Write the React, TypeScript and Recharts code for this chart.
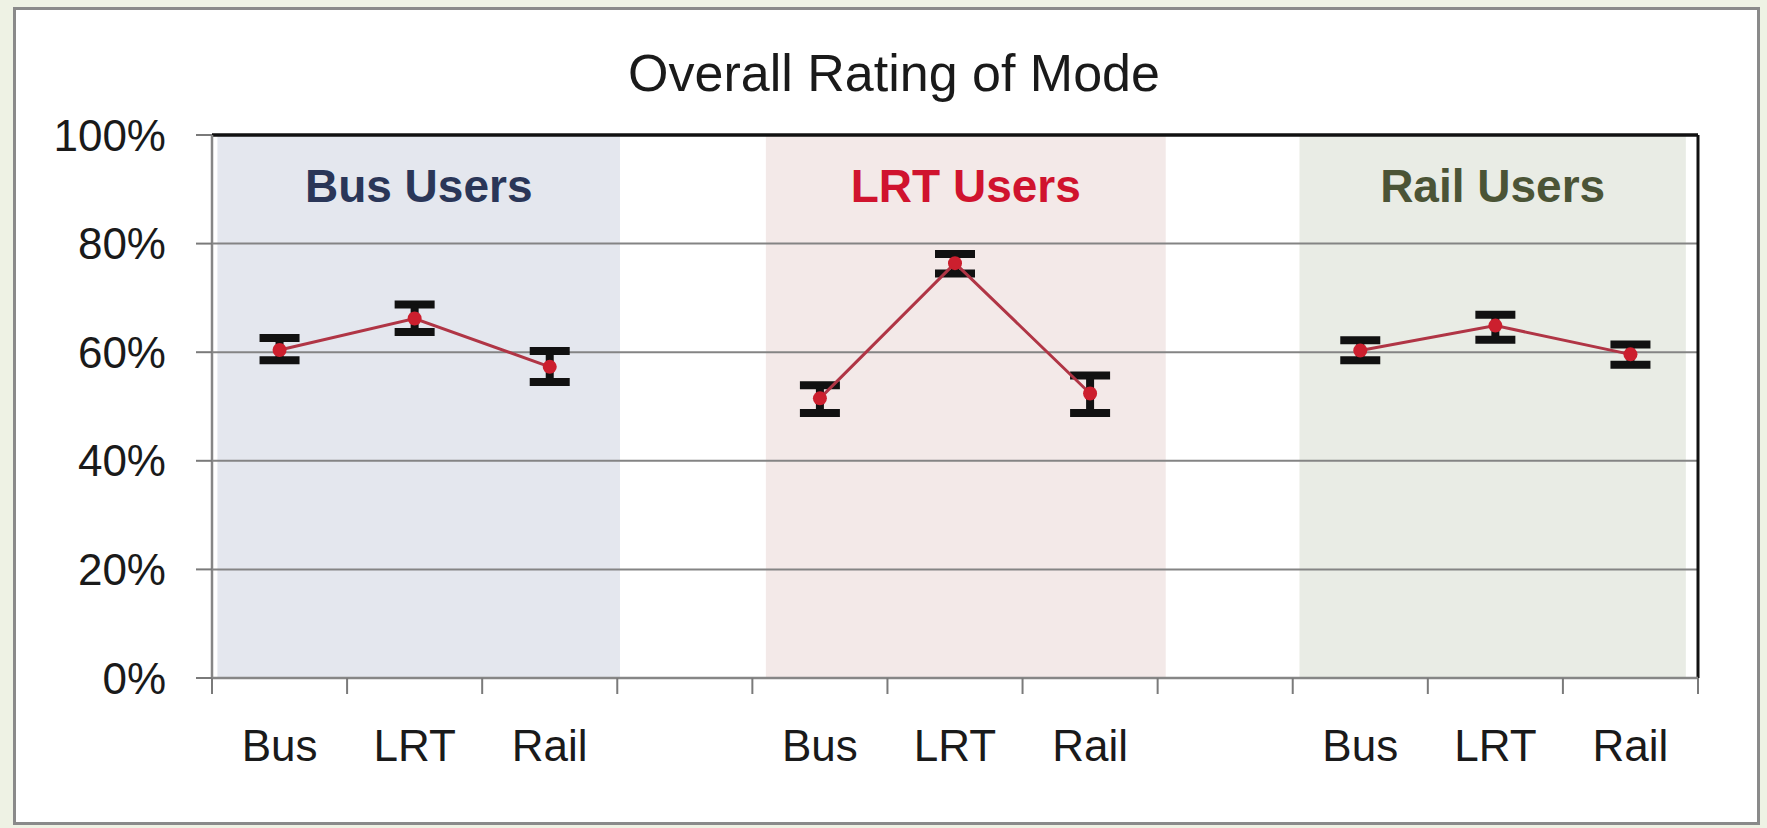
import React from 'react';
import {
  LineChart,
  Line,
  XAxis,
  YAxis,
  CartesianGrid,
  ErrorBar,
  ReferenceArea,
  ReferenceLine,
} from 'recharts';

// ---- data ----
const categories = ['Bus', 'LRT', 'Rail', '', 'Bus', 'LRT', 'Rail', '', 'Bus', 'LRT', 'Rail'];
const ratings: (number | null)[] = [60.4, 66.2, 57.3, null, 51.5, 76.4, 52.4, null, 60.3, 64.9, 59.6];
const errMinus: (number | null)[] = [1.9, 2.5, 2.8, null, 2.7, 1.9, 3.6, null, 1.8, 2.6, 1.9];
const errPlus: (number | null)[] = [2.2, 2.6, 2.9, null, 2.4, 1.7, 3.3, null, 1.9, 2.0, 1.8];
const yTicks = [0, 20, 40, 60, 80, 100];
const groupNames = ['Bus Users', 'LRT Users', 'Rail Users'];
const groupStart = [0.04, 4.1, 8.05];
const groupEnd = [3.02, 7.06, 10.91];
const groupFills = ['#e4e7ee', '#f3e9e8', '#e9ece5'];
const groupTextColors = ['#2a3658', '#d0132e', '#4b5436'];

const data = categories.map((c, i) => ({
  x: i + 0.5,
  cat: c,
  v: ratings[i],
  e: ratings[i] == null ? null : [errMinus[i], errPlus[i]],
}));

const boundaryTicks = categories.map((_, i) => i).concat([categories.length]);
const labelTicks = categories
  .map((c, i) => ({ c, x: i + 0.5 }))
  .filter((d) => d.c !== '')
  .map((d) => d.x);

const FONT = '"Liberation Sans", Arial, sans-serif';

export default function App() {
  return (
    <div
      style={{
        position: 'fixed',
        left: 0,
        top: 0,
        width: 1767,
        height: 828,
        background: '#eef2e4',
        overflow: 'hidden',
        fontFamily: FONT,
      }}
    >
      <div
        style={{
          position: 'absolute',
          left: 13,
          top: 7,
          width: 1741,
          height: 812,
          border: '3px solid #8a8a8a',
          background: '#ffffff',
        }}
      />
      <div
        style={{
          position: 'absolute',
          left: 394,
          width: 1000,
          top: 47,
          textAlign: 'center',
          fontSize: 52,
          lineHeight: '52px',
          color: '#1a1a1a',
          fontFamily: FONT,
        }}
      >
        Overall Rating of Mode
      </div>
      <div style={{ position: 'absolute', left: 0, top: 0 }}>
        <LineChart
          width={1767}
          height={828}
          data={data}
          margin={{ top: 135, right: 69, bottom: 50, left: 112 }}
        >
          {groupNames.map((g, i) => (
            <ReferenceArea
              key={g}
              xAxisId={0}
              x1={groupStart[i]}
              x2={groupEnd[i]}
              y1={0}
              y2={100}
              fill={groupFills[i]}
              fillOpacity={1}
              stroke="none"
              zIndex={-200}
              ifOverflow="extendDomain"
              label={{
                value: g,
                position: 'insideTop',
                offset: 34,
                fill: groupTextColors[i],
                fontSize: 46,
                fontWeight: 700,
                fontFamily: FONT,
              }}
            />
          ))}
          <CartesianGrid vertical={false} stroke="#848484" strokeWidth={2} xAxisId={0} />
          <XAxis
            xAxisId={0}
            dataKey="x"
            type="number"
            domain={[0, categories.length]}
            ticks={boundaryTicks}
            interval={0}
            tickFormatter={() => ''}
            tickSize={16}
            height={20}
            axisLine={{ stroke: '#868686', strokeWidth: 2.5 }}
            tickLine={{ stroke: '#7a7a7a', strokeWidth: 2 }}
          />
          <XAxis
            xAxisId={1}
            dataKey="x"
            type="number"
            domain={[0, categories.length]}
            ticks={labelTicks}
            interval={0}
            tickFormatter={(v: number) => categories[Math.floor(v)]}
            tickSize={0}
            tickMargin={32}
            height={80}
            axisLine={false}
            tickLine={false}
            tick={{ fontSize: 44, fill: '#1a1a1a', fontFamily: FONT }}
          />
          <YAxis
            domain={[0, 100]}
            ticks={yTicks}
            interval={0}
            width={100}
            tickFormatter={(v: number) => `${v}%`}
            tickSize={16}
            tickMargin={30}
            axisLine={{ stroke: '#868686', strokeWidth: 2.5 }}
            tickLine={{ stroke: '#7a7a7a', strokeWidth: 2 }}
            tick={{ fontSize: 44, fill: '#1a1a1a', fontFamily: FONT }}
          />
          <ReferenceLine y={100} xAxisId={0} stroke="#111111" strokeWidth={3.5} />
          <ReferenceLine x={categories.length} xAxisId={0} stroke="#111111" strokeWidth={3} />
          <Line
            xAxisId={0}
            dataKey="v"
            stroke="#b03545"
            strokeWidth={3}
            dot={{ r: 7, fill: '#cc1f2e', stroke: 'none' }}
            activeDot={false}
            connectNulls={false}
            isAnimationActive={false}
          >
            <ErrorBar dataKey="e" width={20} stroke="#111111" strokeWidth={8} direction="y" />
          </Line>
        </LineChart>
      </div>
    </div>
  );
}
